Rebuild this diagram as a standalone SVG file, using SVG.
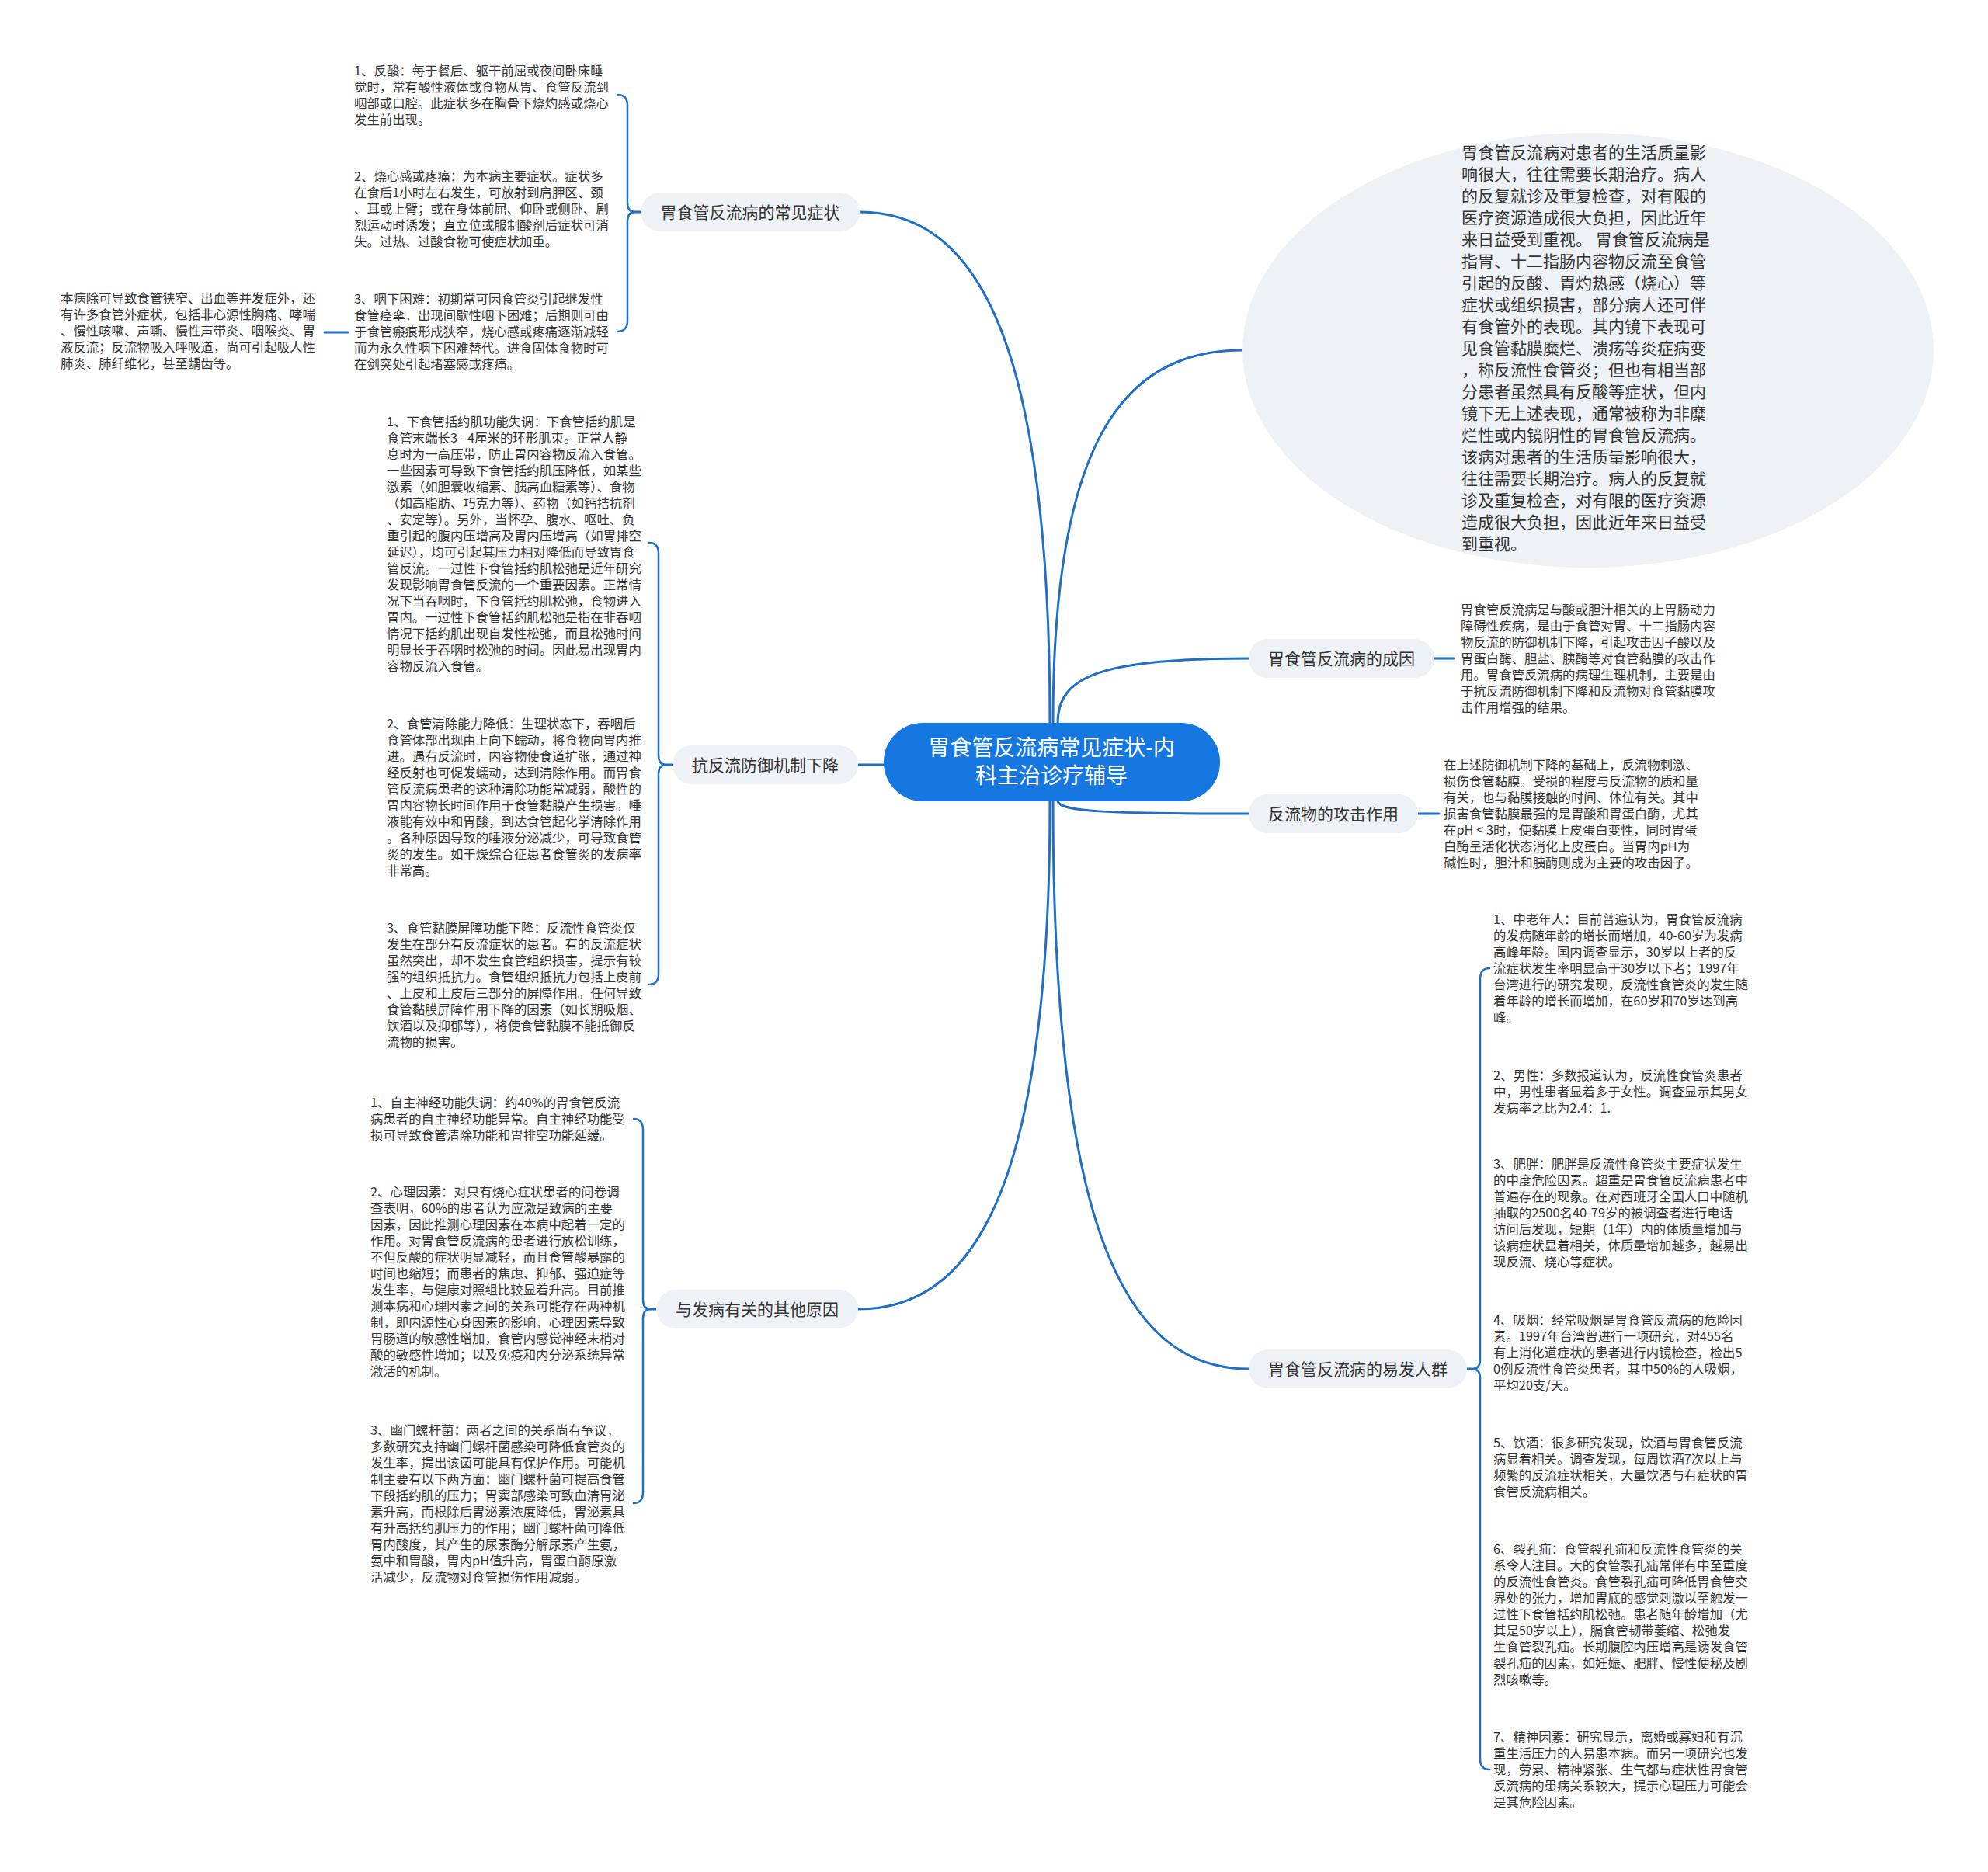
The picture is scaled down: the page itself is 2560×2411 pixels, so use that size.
<svg xmlns="http://www.w3.org/2000/svg" width="2560" height="2411" viewBox="0 0 2560 2411">
<style>
.t{font-family:"Noto Sans CJK SC","Microsoft YaHei",sans-serif;font-size:16.4px;fill:#333}
.b{font-size:21px}
.lbl{font-family:"Noto Sans CJK SC","Microsoft YaHei",sans-serif;font-size:21px;fill:#333;text-anchor:middle}
.ctr{font-family:"Noto Sans CJK SC","Microsoft YaHei",sans-serif;font-size:28px;fill:#fff;text-anchor:middle}
.c{fill:none;stroke:#1f6fc5;stroke-width:3;stroke-linecap:round}
.br{fill:none;stroke:#1f6fc5;stroke-width:2.5;stroke-linecap:round;stroke-linejoin:round}
.pill{fill:#eef1f6}
</style>
<rect width="2560" height="2411" fill="#fff"/>
<g id="connectors">
<path class="c" d="M1352,931 C1352,420 1250,273 1107,273"/>
<path class="c" d="M1138,985 L1105,985"/>
<path class="c" d="M1352,1032 C1352,1540 1250,1686 1105,1686"/>
<path class="c" d="M1356,931 C1356,580 1440,451 1600,451"/>
<path class="c" d="M1362,931 C1362,870 1420,848 1608,848"/>
<path class="c" d="M1362,1032 C1366,1045 1420,1048 1608,1048"/>
<path class="c" d="M1356,1032 C1356,1560 1440,1763 1608,1763"/>
<path class="c" d="M825,273 L818,273"/>
<path class="br" d="M795,122 Q808,122 808,136 L808,261 Q808,273 818,273 Q808,273 808,285 L808,413 Q808,427 795,427"/>
<path class="c" d="M866,985 L858,985"/>
<path class="br" d="M836,699 Q848,699 848,713 L848,973 Q848,985 858,985 Q848,985 848,997 L848,1254 Q848,1268 836,1268"/>
<path class="c" d="M845,1686 L838,1686"/>
<path class="br" d="M816,1441 Q828,1441 828,1455 L828,1674 Q828,1686 838,1686 Q828,1686 828,1698 L828,1922 Q828,1936 816,1936"/>
<path class="c" d="M1889,1763 L1896,1763"/>
<path class="br" d="M1918,1247 Q1906,1247 1906,1261 L1906,1751 Q1906,1763 1896,1763 Q1906,1763 1906,1775 L1906,2265 Q1906,2279 1918,2279"/>
<path class="c" d="M1847,848 L1872,848"/>
<path class="c" d="M1826,1048 L1853,1048"/>
<path class="c" d="M418,428 L448,428"/>
</g>
<g id="center">
<rect x="1138" y="931" width="433" height="101" rx="50" fill="#1677e0"/>
<text class="ctr" x="1354" y="973">胃食管反流病常见症状-内</text>
<text class="ctr" x="1354" y="1009">科主治诊疗辅导</text>
</g>
<g id="b-symptoms">
<rect class="pill" x="825" y="248" width="282" height="50" rx="25"/>
<text class="lbl" x="966" y="281">胃食管反流病的常见症状</text>
</g>
<g id="symptom-1">
<text class="t" x="456" y="97"><tspan x="456">1、反酸：每于餐后、躯干前屈或夜间卧床睡</tspan><tspan x="456" dy="21">觉时，常有酸性液体或食物从胃、食管反流到</tspan><tspan x="456" dy="21">咽部或口腔。此症状多在胸骨下烧灼感或烧心</tspan><tspan x="456" dy="21">发生前出现。</tspan></text>
</g>
<g id="symptom-2">
<text class="t" x="456" y="233"><tspan x="456">2、烧心感或疼痛：为本病主要症状。症状多</tspan><tspan x="456" dy="21">在食后1小时左右发生，可放射到肩胛区、颈</tspan><tspan x="456" dy="21">、耳或上臂；或在身体前屈、仰卧或侧卧、剧</tspan><tspan x="456" dy="21">烈运动时诱发；直立位或服制酸剂后症状可消</tspan><tspan x="456" dy="21">失。过热、过酸食物可使症状加重。</tspan></text>
</g>
<g id="symptom-3">
<text class="t" x="456" y="391"><tspan x="456">3、咽下困难：初期常可因食管炎引起继发性</tspan><tspan x="456" dy="21">食管痉挛，出现间歇性咽下困难；后期则可由</tspan><tspan x="456" dy="21">于食管瘢痕形成狭窄，烧心感或疼痛逐渐减轻</tspan><tspan x="456" dy="21">而为永久性咽下困难替代。进食固体食物时可</tspan><tspan x="456" dy="21">在剑突处引起堵塞感或疼痛。</tspan></text>
</g>
<g id="symptom-note">
<text class="t" x="78" y="390"><tspan x="78">本病除可导致食管狭窄、出血等并发症外，还</tspan><tspan x="78" dy="21">有许多食管外症状，包括非心源性胸痛、哮喘</tspan><tspan x="78" dy="21">、慢性咳嗽、声嘶、慢性声带炎、咽喉炎、胃</tspan><tspan x="78" dy="21">液反流；反流物吸入呼吸道，尚可引起吸人性</tspan><tspan x="78" dy="21">肺炎、肺纤维化，甚至龋齿等。</tspan></text>
</g>
<g id="b-defense">
<rect class="pill" x="866" y="960" width="239" height="50" rx="25"/>
<text class="lbl" x="985.5" y="993">抗反流防御机制下降</text>
</g>
<g id="defense-1">
<text class="t" x="498" y="549"><tspan x="498">1、下食管括约肌功能失调：下食管括约肌是</tspan><tspan x="498" dy="21">食管末端长3 - 4厘米的环形肌束。正常人静</tspan><tspan x="498" dy="21">息时为一高压带，防止胃内容物反流入食管。</tspan><tspan x="498" dy="21">一些因素可导致下食管括约肌压降低，如某些</tspan><tspan x="498" dy="21">激素（如胆囊收缩素、胰高血糖素等）、食物</tspan><tspan x="498" dy="21">（如高脂肪、巧克力等）、药物（如钙拮抗剂</tspan><tspan x="498" dy="21">、安定等）。另外，当怀孕、腹水、呕吐、负</tspan><tspan x="498" dy="21">重引起的腹内压增高及胃内压增高（如胃排空</tspan><tspan x="498" dy="21">延迟），均可引起其压力相对降低而导致胃食</tspan><tspan x="498" dy="21">管反流。一过性下食管括约肌松弛是近年研究</tspan><tspan x="498" dy="21">发现影响胃食管反流的一个重要因素。正常情</tspan><tspan x="498" dy="21">况下当吞咽时，下食管括约肌松弛，食物进入</tspan><tspan x="498" dy="21">胃内。一过性下食管括约肌松弛是指在非吞咽</tspan><tspan x="498" dy="21">情况下括约肌出现自发性松弛，而且松弛时间</tspan><tspan x="498" dy="21">明显长于吞咽时松弛的时间。因此易出现胃内</tspan><tspan x="498" dy="21">容物反流入食管。</tspan></text>
</g>
<g id="defense-2">
<text class="t" x="498" y="938"><tspan x="498">2、食管清除能力降低：生理状态下，吞咽后</tspan><tspan x="498" dy="21">食管体部出现由上向下蠕动，将食物向胃内推</tspan><tspan x="498" dy="21">进。遇有反流时，内容物使食道扩张，通过神</tspan><tspan x="498" dy="21">经反射也可促发蠕动，达到清除作用。而胃食</tspan><tspan x="498" dy="21">管反流病患者的这种清除功能常减弱，酸性的</tspan><tspan x="498" dy="21">胃内容物长时间作用于食管黏膜产生损害。唾</tspan><tspan x="498" dy="21">液能有效中和胃酸，到达食管起化学清除作用</tspan><tspan x="498" dy="21">。各种原因导致的唾液分泌减少，可导致食管</tspan><tspan x="498" dy="21">炎的发生。如干燥综合征患者食管炎的发病率</tspan><tspan x="498" dy="21">非常高。</tspan></text>
</g>
<g id="defense-3">
<text class="t" x="498" y="1201"><tspan x="498">3、食管黏膜屏障功能下降：反流性食管炎仅</tspan><tspan x="498" dy="21">发生在部分有反流症状的患者。有的反流症状</tspan><tspan x="498" dy="21">虽然突出，却不发生食管组织损害，提示有较</tspan><tspan x="498" dy="21">强的组织抵抗力。食管组织抵抗力包括上皮前</tspan><tspan x="498" dy="21">、上皮和上皮后三部分的屏障作用。任何导致</tspan><tspan x="498" dy="21">食管黏膜屏障作用下降的因素（如长期吸烟、</tspan><tspan x="498" dy="21">饮酒以及抑郁等），将使食管黏膜不能抵御反</tspan><tspan x="498" dy="21">流物的损害。</tspan></text>
</g>
<g id="b-other">
<rect class="pill" x="845" y="1661" width="260" height="50" rx="25"/>
<text class="lbl" x="975" y="1694">与发病有关的其他原因</text>
</g>
<g id="other-1">
<text class="t" x="477" y="1426"><tspan x="477">1、自主神经功能失调：约40%的胃食管反流</tspan><tspan x="477" dy="21">病患者的自主神经功能异常。自主神经功能受</tspan><tspan x="477" dy="21">损可导致食管清除功能和胃排空功能延缓。</tspan></text>
</g>
<g id="other-2">
<text class="t" x="477" y="1541"><tspan x="477">2、心理因素：对只有烧心症状患者的问卷调</tspan><tspan x="477" dy="21">查表明，60%的患者认为应激是致病的主要</tspan><tspan x="477" dy="21">因素，因此推测心理因素在本病中起着一定的</tspan><tspan x="477" dy="21">作用。对胃食管反流病的患者进行放松训练，</tspan><tspan x="477" dy="21">不但反酸的症状明显减轻，而且食管酸暴露的</tspan><tspan x="477" dy="21">时间也缩短；而患者的焦虑、抑郁、强迫症等</tspan><tspan x="477" dy="21">发生率，与健康对照组比较显着升高。目前推</tspan><tspan x="477" dy="21">测本病和心理因素之间的关系可能存在两种机</tspan><tspan x="477" dy="21">制，即内源性心身因素的影响，心理因素导致</tspan><tspan x="477" dy="21">胃肠道的敏感性增加，食管内感觉神经末梢对</tspan><tspan x="477" dy="21">酸的敏感性增加；以及免疫和内分泌系统异常</tspan><tspan x="477" dy="21">激活的机制。</tspan></text>
</g>
<g id="other-3">
<text class="t" x="477" y="1848"><tspan x="477">3、幽门螺杆菌：两者之间的关系尚有争议，</tspan><tspan x="477" dy="21">多数研究支持幽门螺杆菌感染可降低食管炎的</tspan><tspan x="477" dy="21">发生率，提出该菌可能具有保护作用。可能机</tspan><tspan x="477" dy="21">制主要有以下两方面：幽门螺杆菌可提高食管</tspan><tspan x="477" dy="21">下段括约肌的压力；胃窦部感染可致血清胃泌</tspan><tspan x="477" dy="21">素升高，而根除后胃泌素浓度降低，胃泌素具</tspan><tspan x="477" dy="21">有升高括约肌压力的作用；幽门螺杆菌可降低</tspan><tspan x="477" dy="21">胃内酸度，其产生的尿素酶分解尿素产生氨，</tspan><tspan x="477" dy="21">氨中和胃酸，胃内pH值升高，胃蛋白酶原激</tspan><tspan x="477" dy="21">活减少，反流物对食管损伤作用减弱。</tspan></text>
</g>
<g id="summary">
<ellipse cx="2045" cy="451" rx="445" ry="280" fill="#eef1f5"/>
<text class="t b" x="1882" y="204"><tspan x="1882">胃食管反流病对患者的生活质量影</tspan><tspan x="1882" dy="28">响很大，往往需要长期治疗。病人</tspan><tspan x="1882" dy="28">的反复就诊及重复检查，对有限的</tspan><tspan x="1882" dy="28">医疗资源造成很大负担，因此近年</tspan><tspan x="1882" dy="28">来日益受到重视。 胃食管反流病是</tspan><tspan x="1882" dy="28">指胃、十二指肠内容物反流至食管</tspan><tspan x="1882" dy="28">引起的反酸、胃灼热感（烧心）等</tspan><tspan x="1882" dy="28">症状或组织损害，部分病人还可伴</tspan><tspan x="1882" dy="28">有食管外的表现。其内镜下表现可</tspan><tspan x="1882" dy="28">见食管黏膜糜烂、溃疡等炎症病变</tspan><tspan x="1882" dy="28">，称反流性食管炎；但也有相当部</tspan><tspan x="1882" dy="28">分患者虽然具有反酸等症状，但内</tspan><tspan x="1882" dy="28">镜下无上述表现，通常被称为非糜</tspan><tspan x="1882" dy="28">烂性或内镜阴性的胃食管反流病。</tspan><tspan x="1882" dy="28">该病对患者的生活质量影响很大，</tspan><tspan x="1882" dy="28">往往需要长期治疗。病人的反复就</tspan><tspan x="1882" dy="28">诊及重复检查，对有限的医疗资源</tspan><tspan x="1882" dy="28">造成很大负担，因此近年来日益受</tspan><tspan x="1882" dy="28">到重视。</tspan></text>
</g>
<g id="b-cause">
<rect class="pill" x="1608" y="823" width="239" height="50" rx="25"/>
<text class="lbl" x="1727.5" y="856">胃食管反流病的成因</text>
</g>
<g id="cause-text">
<text class="t" x="1881" y="791"><tspan x="1881">胃食管反流病是与酸或胆汁相关的上胃肠动力</tspan><tspan x="1881" dy="21">障碍性疾病，是由于食管对胃、十二指肠内容</tspan><tspan x="1881" dy="21">物反流的防御机制下降，引起攻击因子酸以及</tspan><tspan x="1881" dy="21">胃蛋白酶、胆盐、胰酶等对食管黏膜的攻击作</tspan><tspan x="1881" dy="21">用。胃食管反流病的病理生理机制，主要是由</tspan><tspan x="1881" dy="21">于抗反流防御机制下降和反流物对食管黏膜攻</tspan><tspan x="1881" dy="21">击作用增强的结果。</tspan></text>
</g>
<g id="b-attack">
<rect class="pill" x="1608" y="1023" width="218" height="50" rx="25"/>
<text class="lbl" x="1717" y="1056">反流物的攻击作用</text>
</g>
<g id="attack-text">
<text class="t" x="1859" y="991"><tspan x="1859">在上述防御机制下降的基础上，反流物刺激、</tspan><tspan x="1859" dy="21">损伤食管黏膜。受损的程度与反流物的质和量</tspan><tspan x="1859" dy="21">有关，也与黏膜接触的时间、体位有关。其中</tspan><tspan x="1859" dy="21">损害食管黏膜最强的是胃酸和胃蛋白酶，尤其</tspan><tspan x="1859" dy="21">在pH &lt; 3时，使黏膜上皮蛋白变性，同时胃蛋</tspan><tspan x="1859" dy="21">白酶呈活化状态消化上皮蛋白。当胃内pH为</tspan><tspan x="1859" dy="21">碱性时，胆汁和胰酶则成为主要的攻击因子。</tspan></text>
</g>
<g id="b-population">
<rect class="pill" x="1608" y="1738" width="281" height="50" rx="25"/>
<text class="lbl" x="1748.5" y="1771">胃食管反流病的易发人群</text>
</g>
<g id="pop-1">
<text class="t" x="1923" y="1190"><tspan x="1923">1、中老年人：目前普遍认为，胃食管反流病</tspan><tspan x="1923" dy="21">的发病随年龄的增长而增加，40-60岁为发病</tspan><tspan x="1923" dy="21">高峰年龄。国内调查显示，30岁以上者的反</tspan><tspan x="1923" dy="21">流症状发生率明显高于30岁以下者；1997年</tspan><tspan x="1923" dy="21">台湾进行的研究发现，反流性食管炎的发生随</tspan><tspan x="1923" dy="21">着年龄的增长而增加，在60岁和70岁达到高</tspan><tspan x="1923" dy="21">峰。</tspan></text>
</g>
<g id="pop-2">
<text class="t" x="1923" y="1391"><tspan x="1923">2、男性：多数报道认为，反流性食管炎患者</tspan><tspan x="1923" dy="21">中，男性患者显着多于女性。调查显示其男女</tspan><tspan x="1923" dy="21">发病率之比为2.4：1.</tspan></text>
</g>
<g id="pop-3">
<text class="t" x="1923" y="1505"><tspan x="1923">3、肥胖：肥胖是反流性食管炎主要症状发生</tspan><tspan x="1923" dy="21">的中度危险因素。超重是胃食管反流病患者中</tspan><tspan x="1923" dy="21">普遍存在的现象。在对西班牙全国人口中随机</tspan><tspan x="1923" dy="21">抽取的2500名40-79岁的被调查者进行电话</tspan><tspan x="1923" dy="21">访问后发现，短期（1年）内的体质量增加与</tspan><tspan x="1923" dy="21">该病症状显着相关，体质量增加越多，越易出</tspan><tspan x="1923" dy="21">现反流、烧心等症状。</tspan></text>
</g>
<g id="pop-4">
<text class="t" x="1923" y="1706"><tspan x="1923">4、吸烟：经常吸烟是胃食管反流病的危险因</tspan><tspan x="1923" dy="21">素。1997年台湾曾进行一项研究，对455名</tspan><tspan x="1923" dy="21">有上消化道症状的患者进行内镜检查，检出5</tspan><tspan x="1923" dy="21">0例反流性食管炎患者，其中50%的人吸烟，</tspan><tspan x="1923" dy="21">平均20支/天。</tspan></text>
</g>
<g id="pop-5">
<text class="t" x="1923" y="1864"><tspan x="1923">5、饮酒：很多研究发现，饮酒与胃食管反流</tspan><tspan x="1923" dy="21">病显着相关。调查发现，每周饮酒7次以上与</tspan><tspan x="1923" dy="21">频繁的反流症状相关，大量饮酒与有症状的胃</tspan><tspan x="1923" dy="21">食管反流病相关。</tspan></text>
</g>
<g id="pop-6">
<text class="t" x="1923" y="2001"><tspan x="1923">6、裂孔疝：食管裂孔疝和反流性食管炎的关</tspan><tspan x="1923" dy="21">系令人注目。大的食管裂孔疝常伴有中至重度</tspan><tspan x="1923" dy="21">的反流性食管炎。食管裂孔疝可降低胃食管交</tspan><tspan x="1923" dy="21">界处的张力，增加胃底的感觉刺激以至触发一</tspan><tspan x="1923" dy="21">过性下食管括约肌松弛。患者随年龄增加（尤</tspan><tspan x="1923" dy="21">其是50岁以上），膈食管韧带萎缩、松弛发</tspan><tspan x="1923" dy="21">生食管裂孔疝。长期腹腔内压增高是诱发食管</tspan><tspan x="1923" dy="21">裂孔疝的因素，如妊娠、肥胖、慢性便秘及剧</tspan><tspan x="1923" dy="21">烈咳嗽等。</tspan></text>
</g>
<g id="pop-7">
<text class="t" x="1923" y="2243"><tspan x="1923">7、精神因素：研究显示，离婚或寡妇和有沉</tspan><tspan x="1923" dy="21">重生活压力的人易患本病。而另一项研究也发</tspan><tspan x="1923" dy="21">现，劳累、精神紧张、生气都与症状性胃食管</tspan><tspan x="1923" dy="21">反流病的患病关系较大，提示心理压力可能会</tspan><tspan x="1923" dy="21">是其危险因素。</tspan></text>
</g>
</svg>
